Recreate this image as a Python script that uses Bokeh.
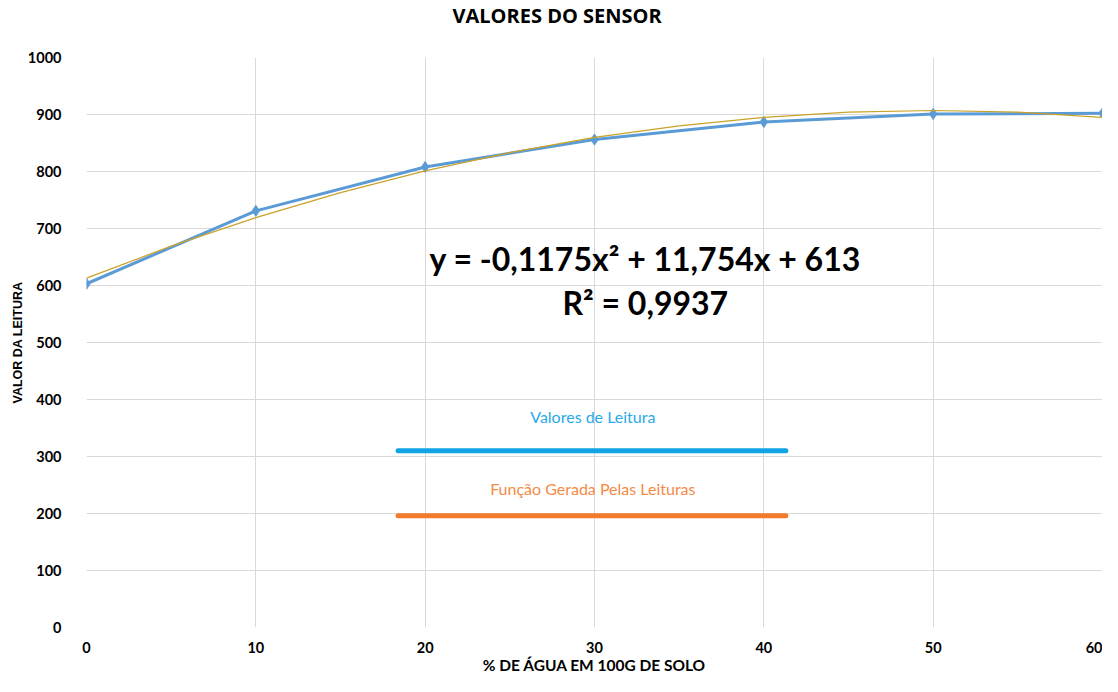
from bokeh.plotting import figure
from bokeh.models import Range1d, Label, FixedTicker
from bokeh.embed import file_html
from bokeh.resources import INLINE

# Data
agua = [0, 10, 20, 30, 40, 50, 60]
leitura = [603, 731, 808, 856, 887, 901, 902]

# Trendline values
trend_x = [0, 5, 10, 15, 20, 25, 30, 35, 40, 45, 50, 55, 60]
trend_y = [613, 669, 719, 763, 801, 833, 860, 880, 895, 904, 907, 904, 895]

x_ticks = [0, 10, 20, 30, 40, 50, 60]
y_ticks = [0, 100, 200, 300, 400, 500, 600, 700, 800, 900, 1000]

title_text = "VALORES DO SENSOR"
eq_text = "y = -0,1175x² + 11,754x + 613"
r2_text = "R² = 0,9937"
legend_labels = ["Valores de Leitura", "Função Gerada Pelas Leituras"]

FONT = "Lato"

p = figure(width=1102, height=676, output_backend="svg", toolbar_location=None,
           x_range=Range1d(0, 60), y_range=Range1d(0, 1000),
           min_border_left=86, min_border_right=0, min_border_top=57, min_border_bottom=46)
p.outline_line_color = None
p.background_fill_color = "white"
p.border_fill_color = "white"

# second (empty) line only reserves space so the title sits higher above the frame
p.title.text = title_text + "\n"
p.title.text_font = "Open Sans"
p.title.text_font_style = "bold"
p.title.text_font_size = "20px"
p.title.text_color = "#000000"
p.title.align = "left"
p.title.offset = 366
p.title.vertical_align = "top"
try:
    p.title.standoff = 0
except AttributeError:
    pass

for ax in (p.xaxis[0], p.yaxis[0]):
    ax.axis_line_color = None
    ax.major_tick_line_color = None
    ax.minor_tick_line_color = None
    ax.major_label_text_font = FONT
    ax.major_label_text_font_style = "bold"
    ax.major_label_text_font_size = "14.5px"
    ax.major_label_text_color = "#000000"
    ax.axis_label_text_font_style = "bold"
    ax.axis_label_text_color = "#000000"

p.xaxis.ticker = FixedTicker(ticks=x_ticks)
p.yaxis.ticker = FixedTicker(ticks=y_ticks)
p.xaxis.major_label_standoff = 8
p.yaxis.major_label_standoff = 19

p.xaxis.axis_label = "% DE ÁGUA EM 100G DE SOLO"
p.xaxis.axis_label_text_font = FONT
p.xaxis.axis_label_text_font_size = "15.5px"
p.xaxis.axis_label_standoff = 0

p.yaxis.axis_label = "VALOR DA LEITURA"
p.yaxis.axis_label_text_font = "Liberation Sans"
p.yaxis.axis_label_text_font_size = "12.5px"
p.yaxis.axis_label_standoff = 0

p.xgrid.grid_line_color = "#d9d9d9"
p.ygrid.grid_line_color = "#d9d9d9"
p.xgrid.ticker = FixedTicker(ticks=x_ticks)
p.ygrid.ticker = FixedTicker(ticks=y_ticks)

# Series
p.line(agua, leitura, line_color="#5b9bd5", line_width=3)
p.scatter(agua, leitura, marker="diamond", size=11, fill_color="#5b9bd5", line_color="#5b9bd5")
p.line(trend_x, trend_y, line_color="#c9a227", line_width=1.2)

# Equation
p.add_layout(Label(x=33.0, y=648, text=eq_text, text_font=FONT, text_font_style="bold",
                   text_font_size="32px", text_align="center", text_baseline="middle",
                   text_color="#000000"))
p.add_layout(Label(x=33.0, y=571, text=r2_text, text_font=FONT, text_font_style="bold",
                   text_font_size="32px", text_align="center", text_baseline="middle",
                   text_color="#000000"))

# Legend-like decorations
leg_x0, leg_x1 = 18.4, 41.3
leg_line_y = [310, 196]
leg_label_y = [370, 243]
leg_line_colors = ["#12a3e6", "#f47b2c"]
leg_text_colors = ["#2aa9e8", "#f58a45"]
for i in range(2):
    p.segment(x0=[leg_x0], y0=[leg_line_y[i]], x1=[leg_x1], y1=[leg_line_y[i]],
              line_color=leg_line_colors[i], line_width=5, line_cap="round")
    p.add_layout(Label(x=29.9, y=leg_label_y[i], text=legend_labels[i], text_font=FONT,
                       text_font_size="16px", text_align="center", text_baseline="middle",
                       text_color=leg_text_colors[i]))

open("out.html", "w").write(file_html(p, INLINE))
